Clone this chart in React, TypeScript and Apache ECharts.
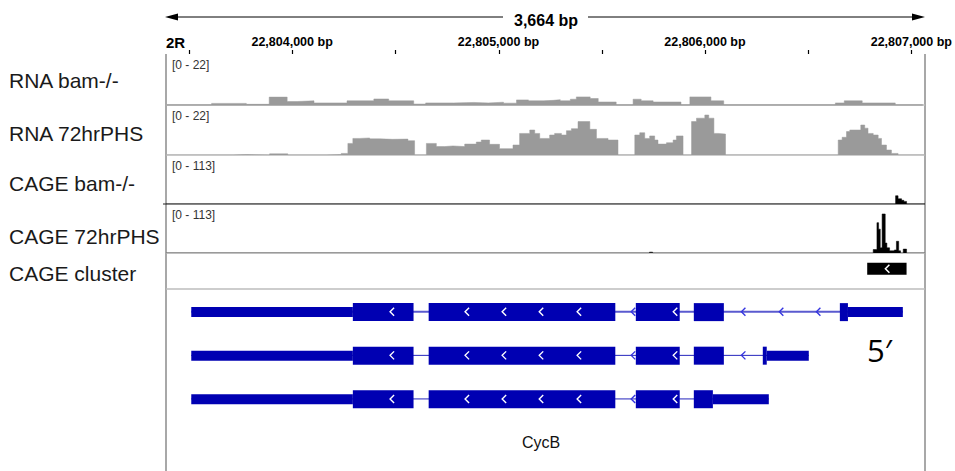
import { useEffect, useRef } from 'react';
import * as echarts from 'echarts';

// ---------- data ----------
const chromName = '2R';
const viewStart = 22803389;
const viewEnd = 22807053;
const rulerTicks = [22803500, 22804000, 22804500, 22805000, 22805500, 22806000, 22806500, 22807000];
const rulerLabels = [22804000, 22805000, 22806000, 22807000];
const trackNames = ['RNA bam-/-', 'RNA 72hrPHS', 'CAGE bam-/-', 'CAGE 72hrPHS', 'CAGE cluster'];
const rnaRange = 22;
const cageRange = 113;

// step coverage: [start bp, value]
const rnaBam = [
  [22803389, 0], [22803610, 0.7], [22803778, 0.3], [22803889, 3.4], [22803976, 1.5], [22804024, 1.8],
  [22804106, 0.9], [22804266, 1.8], [22804396, 2.6], [22804468, 1.8], [22804589, 0.4], [22804647, 0.9],
  [22804782, 1.1], [22804879, 0.9], [22804951, 1.2], [22805024, 0.8], [22805087, 2.2], [22805145, 1.8],
  [22805217, 2.0], [22805265, 2.3], [22805299, 1.8], [22805348, 2.5], [22805377, 3.5], [22805444, 2.8],
  [22805483, 1.3], [22805570, 0], [22805652, 2.5], [22805691, 1.8], [22805749, 1.3], [22805884, 0],
  [22805927, 3.5], [22806029, 1.8], [22806091, 0], [22806632, 0.9], [22806675, 1.8], [22806762, 0.9],
  [22806922, 0], [22807053, 0],
];
const rna72 = [
  [22803389, 0], [22803712, 0.2], [22803776, 0], [22803889, 0.5], [22803977, 0], [22804163, 0.2],
  [22804235, 0.7], [22804267, 5.1], [22804291, 7.3], [22804324, 7.5], [22804372, 7.1], [22804420, 6.9],
  [22804484, 7.0], [22804557, 6.3], [22804589, 0], [22804646, 5.1], [22804694, 3.7], [22804734, 4.0],
  [22804774, 3.7], [22804831, 4.8], [22804887, 5.7], [22804911, 6.6], [22804951, 4.7], [22804999, 2.8],
  [22805064, 4.4], [22805096, 9.5], [22805145, 11], [22805169, 9.5], [22805193, 7.3], [22805241, 8.8],
  [22805265, 9.5], [22805298, 8.8], [22805322, 10.7], [22805346, 11.6], [22805378, 14.7], [22805435, 11.3],
  [22805467, 7.3], [22805523, 6.6], [22805571, 0], [22805652, 8.8], [22805676, 9.8], [22805700, 7.3],
  [22805724, 8.4], [22805748, 6.6], [22805764, 4.8], [22805805, 5.4], [22805837, 6.6], [22805853, 8.4],
  [22805885, 0], [22805926, 14.7], [22805950, 16.2], [22805990, 17.6], [22806009, 16.2], [22806034, 9.5],
  [22806054, 9.2], [22806090, 0], [22806634, 6.6], [22806653, 7.8], [22806674, 10.3], [22806690, 11],
  [22806743, 13.2], [22806762, 11.8], [22806778, 9.5], [22806803, 8.8], [22806827, 7.3], [22806843, 4.4],
  [22806867, 2.2], [22806891, 0.7], [22806923, 0], [22807053, 0],
];
const cageBam = [
  [22803389, 0], [22806911, 19], [22806923, 12], [22806940, 8.5], [22806951, 6], [22806964, 0], [22807053, 0],
];
const cage72 = [
  [22803389, 0], [22805723, 2], [22805738, 0], [22806803, 8], [22806821, 70], [22806829, 55], [22806837, 12],
  [22806846, 90], [22806861, 23], [22806869, 12], [22806882, 5], [22806905, 7], [22806915, 27], [22806926, 5],
  [22806935, 0], [22806948, 9], [22806964, 0], [22807053, 0],
];
const cageCluster = [[22806774, 22806964]];

// gene model (bp): three transcripts of CycB, minus strand
const geneName = 'CycB';
const tx1Cds = [[22804291, 22804584], [22804657, 22805558], [22805657, 22805869], [22805937, 22806082], [22806642, 22806681]];
const tx1Utr = [[22803511, 22804291], [22806681, 22806946]];
const tx1ExonArrows = [22804478, 22804840, 22805019, 22805198, 22805381, 22805845];
const tx1IntronArrows = [22805642, 22806174, 22806357, 22806536];

const tx2Cds = [[22804291, 22804584], [22804657, 22805558], [22805657, 22805869], [22805937, 22806082], [22806270, 22806289]];
const tx2Utr = [[22803511, 22804291], [22806289, 22806492]];
const tx2ExonArrows = [22804478, 22804840, 22805019, 22805198, 22805381, 22805845];
const tx2IntronArrows = [22805642, 22806174];

const tx3Cds = [[22804291, 22804584], [22804657, 22805558], [22805657, 22805869], [22805937, 22806029]];
const tx3Utr = [[22803511, 22804291], [22806029, 22806299]];
const tx3ExonArrows = [22804478, 22804840, 22805019, 22805198, 22805381, 22805845];
const tx3IntronArrows = [22805642];

const transcripts = [
  { cds: tx1Cds, utr: tx1Utr, exonArrows: tx1ExonArrows, intronArrows: tx1IntronArrows },
  { cds: tx2Cds, utr: tx2Utr, exonArrows: tx2ExonArrows, intronArrows: tx2IntronArrows },
  { cds: tx3Cds, utr: tx3Utr, exonArrows: tx3ExonArrows, intronArrows: tx3IntronArrows },
];

// ---------- layout / style ----------
const FONT = '"Liberation Sans", Arial, Helvetica, sans-serif';
const LEFT = 166;
const RIGHT_EDGE = 925;
const gridRects = [
  { top: 54, height: 51 },
  { top: 105, height: 50 },
  { top: 155, height: 49 },
  { top: 204, height: 49 },
  { top: 253, height: 36 },
  { top: 289, height: 182 },
];
const labelY = [80, 133, 183, 236, 273];
const EXON = '#0000B2';

function chevron(x: number, y: number, color: string, w = 1.5) {
  return {
    type: 'polyline',
    shape: { points: [[x + 2.5, y - 4], [x - 1.5, y], [x + 2.5, y + 4]] },
    style: { stroke: color, lineWidth: w, fill: null },
  };
}

function buildOption() {
  const yMax = [rnaRange, rnaRange, cageRange, cageRange, 1];
  const grid = gridRects.map((g) => ({ left: LEFT, right: 955 - RIGHT_EDGE, top: g.top, height: g.height }));
  const xAxis = gridRects.map((_, i) => {
    const base: any = { type: 'value', gridIndex: i, min: viewStart, max: viewEnd, show: i === 0, splitLine: { show: false } };
    if (i === 0) {
      base.position = 'top';
      base.axisLine = { show: true, lineStyle: { color: '#aaaaaa', width: 1.5 } };
      base.axisTick = { show: false };
      base.axisLabel = {
        customValues: rulerLabels,
        formatter: (v: number) => v.toLocaleString('en-US') + ' bp',
        fontWeight: 'bold', fontSize: 12.5, color: '#000', fontFamily: FONT, margin: 6,
      };
    }
    return base;
  });
  const yAxis: any[] = yMax.map((m, i) => ({ type: 'value', gridIndex: i, min: 0, max: m, show: false }));
  yAxis.push({ type: 'value', gridIndex: 5, min: -0.524, max: 3.655, inverse: true, show: false });

  const cov = (data: number[][], idx: number, color: string) => ({
    type: 'line', xAxisIndex: idx, yAxisIndex: idx, data, step: 'end', symbol: 'none',
    lineStyle: { width: 0.5, color }, areaStyle: { color, opacity: 1 }, itemStyle: { color }, silent: true,
  });

  const series: any[] = [
    cov(rnaBam, 0, '#9a9a9a'),
    cov(rna72, 1, '#9a9a9a'),
    cov(cageBam, 2, '#000000'),
    cov(cage72, 3, '#000000'),
    {
      // ruler ticks above the top line
      type: 'custom', xAxisIndex: 0, yAxisIndex: 0, clip: false, silent: true,
      data: rulerTicks.map((v) => [v, rnaRange]),
      encode: { x: 0, y: 1 },
      renderItem: (_p: any, api: any) => {
        const p = api.coord([api.value(0), api.value(1)]);
        return {
          type: 'line',
          shape: { x1: Math.round(p[0]) + 0.5, y1: p[1] - 4, x2: Math.round(p[0]) + 0.5, y2: p[1] },
          style: { stroke: '#000', lineWidth: 1.2 },
        };
      },
    },
    {
      type: 'custom', xAxisIndex: 4, yAxisIndex: 4,
      data: cageCluster.map((c) => [c[0], 0.56, c[1]]),
      encode: { x: [0, 2], y: 1 },
      renderItem: (_p: any, api: any) => {
        const a = api.coord([api.value(0), api.value(1)]);
        const b = api.coord([api.value(2), api.value(1)]);
        const mid = (a[0] + b[0]) / 2;
        return {
          type: 'group',
          children: [
            { type: 'rect', shape: { x: a[0], y: a[1] - 6, width: b[0] - a[0], height: 12 }, style: { fill: '#000' } },
            chevron(mid, a[1], '#fff'),
          ],
        };
      },
    },
    {
      type: 'custom', xAxisIndex: 5, yAxisIndex: 5,
      data: transcripts.map((t, i) => {
        const all = [...t.cds, ...t.utr];
        return [Math.min(...all.map((s) => s[0])), i, Math.max(...all.map((s) => s[1]))];
      }),
      encode: { x: [0, 2], y: 1 },
      renderItem: (params: any, api: any) => {
        const i = params.dataIndex;
        const t = transcripts[i];
        const row = api.value(1);
        const y = api.coord([viewStart, row])[1];
        const px = (bp: number) => api.coord([bp, row])[0];
        const children: any[] = [];
        children.push({
          type: 'line',
          shape: { x1: px(api.value(0)), y1: y, x2: px(api.value(2)), y2: y },
          style: { stroke: i === 0 ? '#5A5ACF' : '#2424BC', lineWidth: i === 0 ? 2 : 1 },
        });
        t.intronArrows.forEach((bp) => children.push(chevron(px(bp), y, '#3535E0', 1.4)));
        t.utr.forEach((s) => children.push({
          type: 'rect', shape: { x: px(s[0]), y: y - 4.7, width: px(s[1]) - px(s[0]), height: 10 }, style: { fill: EXON },
        }));
        t.cds.forEach((s) => children.push({
          type: 'rect', shape: { x: px(s[0]), y: y - 8.7, width: px(s[1]) - px(s[0]), height: 18 }, style: { fill: EXON },
        }));
        t.exonArrows.forEach((bp) => children.push(chevron(px(bp), y, '#ffffff', 1.4)));
        return { type: 'group', children };
      },
    },
  ];

  const g: any[] = [];
  // top span arrow
  const spanText = (viewEnd - viewStart).toLocaleString('en-US') + ' bp';
  g.push({ type: 'line', shape: { x1: 175, y1: 17, x2: 503, y2: 17 }, style: { stroke: '#000', lineWidth: 1 } });
  g.push({ type: 'line', shape: { x1: 588, y1: 17, x2: 915, y2: 17 }, style: { stroke: '#000', lineWidth: 1 } });
  g.push({ type: 'polygon', shape: { points: [[165, 17], [178, 13.5], [178, 20.5]] }, style: { fill: '#000' } });
  g.push({ type: 'polygon', shape: { points: [[925, 17], [912, 13.5], [912, 20.5]] }, style: { fill: '#000' } });
  g.push({ type: 'text', x: 546, y: 20, style: { text: spanText, fontSize: 16, fontWeight: 'bold', fontFamily: FONT, fill: '#000', textAlign: 'center', textVerticalAlign: 'middle' } });
  g.push({ type: 'text', x: 166, y: 42, style: { text: chromName, fontSize: 15, fontWeight: 'bold', fontFamily: FONT, fill: '#000', textAlign: 'left', textVerticalAlign: 'middle' } });
  // frame
  g.push({ type: 'line', shape: { x1: LEFT, y1: 54, x2: LEFT, y2: 471 }, style: { stroke: '#a8a8a8', lineWidth: 2 } });
  g.push({ type: 'line', shape: { x1: RIGHT_EDGE, y1: 54, x2: RIGHT_EDGE, y2: 471 }, style: { stroke: '#a8a8a8', lineWidth: 2 } });
  [105, 155, 253, 289].forEach((yy) => g.push({ type: 'line', shape: { x1: LEFT, y1: yy, x2: RIGHT_EDGE, y2: yy }, style: { stroke: '#bdbdbd', lineWidth: 1.5 } }));
  g.push({ type: 'line', shape: { x1: 163, y1: 204, x2: RIGHT_EDGE, y2: 204 }, style: { stroke: '#222', lineWidth: 1.2 } });
  // track names and data ranges
  trackNames.forEach((name, i) => g.push({
    type: 'text', x: 9, y: labelY[i],
    style: { text: name, fontSize: 21, fontFamily: FONT, fill: '#1a1a1a', textAlign: 'left', textVerticalAlign: 'middle' },
  }));
  const ranges = [rnaRange, rnaRange, cageRange, cageRange];
  ranges.forEach((r, i) => g.push({
    type: 'text', x: 172, y: gridRects[i].top + 5,
    style: { text: `[0 - ${r}]`, fontSize: 12, fontFamily: FONT, fill: '#333', textAlign: 'left', textVerticalAlign: 'top' },
  }));
  g.push({ type: 'text', x: 541, y: 442, style: { text: geneName, fontSize: 16, fontFamily: FONT, fill: '#111', textAlign: 'center', textVerticalAlign: 'middle' } });
  g.push({ type: 'text', x: 867, y: 350, style: { text: '5\u2032', fontSize: 31, fontFamily: '"Open Sans", "Noto Sans", sans-serif', fill: '#000', textAlign: 'left', textVerticalAlign: 'middle' } });

  return {
    animation: false,
    backgroundColor: '#ffffff',
    grid, xAxis, yAxis, series,
    graphic: { elements: g },
  };
}

export default function App() {
  const ref = useRef<HTMLDivElement>(null);
  useEffect(() => {
    const chart = echarts.init(ref.current!, null, { renderer: 'svg' });
    chart.setOption(buildOption() as any);
    return () => chart.dispose();
  }, []);
  return <div ref={ref} style={{ position: 'absolute', left: 0, top: 0, width: 955, height: 471, background: '#fff' }} />;
}
